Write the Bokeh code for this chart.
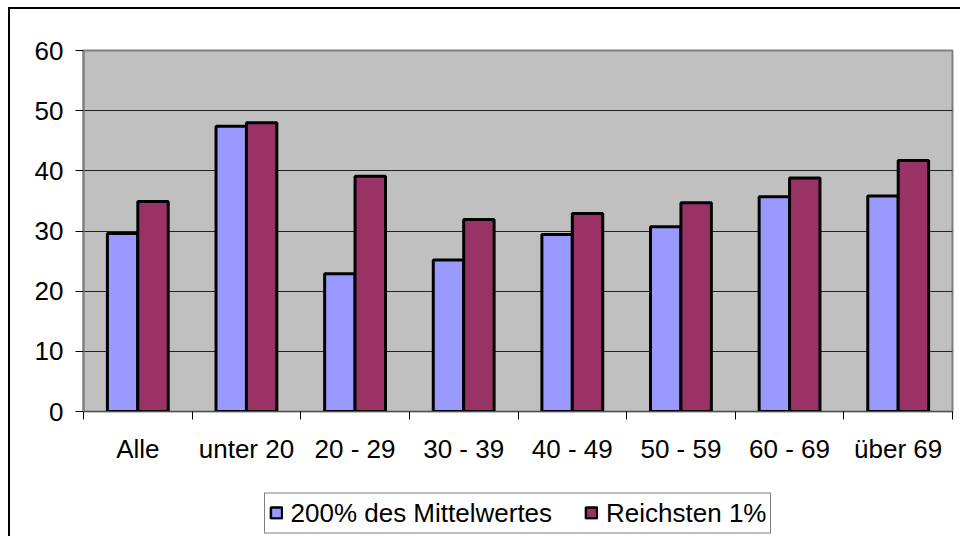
from bokeh.plotting import figure
from bokeh.layouts import column
from bokeh.models import (FactorRange, LinearAxis, FixedTicker, ColumnDataSource,
                          Legend, LegendItem, Range1d)
from bokeh.transform import dodge
from bokeh.embed import file_html
from bokeh.resources import INLINE

categories = ["Alle", "unter 20", "20 - 29", "30 - 39", "40 - 49", "50 - 59", "60 - 69", "über 69"]
series_names = ["200% des Mittelwertes", "Reichsten 1%"]
mittelwert_200 = [29.6, 47.4, 22.9, 25.2, 29.4, 30.7, 35.7, 35.8]
reichsten_1 = [34.9, 48.0, 39.1, 31.9, 32.9, 34.7, 38.8, 41.7]
y_ticks = [0, 10, 20, 30, 40, 50, 60]

FONT = "Liberation Sans"
FS = "26px"
BLUE = "#9999FF"
RED = "#993366"
W = 0.28

source = ColumnDataSource(data=dict(cat=categories, a=mittelwert_200, b=reichsten_1))

# ---------------- main chart ----------------
p = figure(width=950, height=480, output_backend="svg", toolbar_location=None,
           x_range=FactorRange(factors=categories, range_padding=0, factor_padding=0),
           y_range=Range1d(0, 60), x_axis_location=None, y_axis_location=None)
p.min_border = 0
p.min_border_left = 73
p.min_border_top = 41
p.min_border_right = 8
p.min_border_bottom = 78
p.background_fill_color = "#C0C0C0"
p.border_fill_color = "white"
p.outline_line_color = "#808080"
p.outline_line_width = 2

yax = LinearAxis(ticker=FixedTicker(ticks=y_ticks, minor_ticks=[]))
yax.axis_line_color = "#808080"
yax.axis_line_width = 2
yax.major_tick_out = 8
yax.major_tick_in = 0
yax.major_tick_line_color = "black"
yax.major_label_standoff = 12
yax.major_label_text_font = FONT
yax.major_label_text_font_size = FS
yax.major_label_text_color = "black"
p.add_layout(yax, "left")

n = len(categories)
centres = [i + 0.5 for i in range(n)]
bounds = [float(i) for i in range(n + 1)]
xax = LinearAxis(ticker=FixedTicker(ticks=centres, minor_ticks=bounds),
                 major_label_overrides={c: lab for c, lab in zip(centres, categories)})
xax.axis_line_color = "#505050"
xax.axis_line_width = 1
xax.major_tick_out = 0
xax.major_tick_in = 0
xax.minor_tick_out = 8
xax.minor_tick_in = 0
xax.minor_tick_line_color = "black"
xax.major_label_standoff = 14
xax.major_label_text_font = FONT
xax.major_label_text_font_size = FS
xax.major_label_text_color = "black"
p.add_layout(xax, "below")

p.ygrid.ticker = FixedTicker(ticks=y_ticks)
p.ygrid.grid_line_color = "#222222"
p.ygrid.grid_line_width = 1
p.xgrid.visible = False

p.vbar(x=dodge("cat", -W / 2, range=p.x_range), top="a", width=W, source=source,
       fill_color=BLUE, line_color="black", line_width=3)
p.vbar(x=dodge("cat", W / 2, range=p.x_range), top="b", width=W, source=source,
       fill_color=RED, line_color="black", line_width=3)

# ---------------- legend strip (hidden series only feed the legend swatches) ----------------
q = figure(width=950, height=47, output_backend="svg", toolbar_location=None,
           x_range=FactorRange(factors=categories, range_padding=0, factor_padding=0),
           y_range=Range1d(0, 60), x_axis_location=None, y_axis_location=None)
q.min_border = 0
q.outline_line_color = None
q.background_fill_color = "white"
q.border_fill_color = "white"
q.xgrid.visible = False
q.ygrid.visible = False
la = q.vbar(x=dodge("cat", -W / 2, range=q.x_range), top="a", width=W, source=source,
            fill_color=BLUE, line_color="black", line_width=2.5, visible=False)
lb = q.vbar(x=dodge("cat", W / 2, range=q.x_range), top="b", width=W, source=source,
            fill_color=RED, line_color="black", line_width=2.5, visible=False)

legend = Legend(items=[LegendItem(label=series_names[0], renderers=[la]),
                       LegendItem(label=series_names[1], renderers=[lb])],
                orientation="horizontal", location="center", click_policy="none")
legend.label_text_font = FONT
legend.label_text_font_size = FS
legend.label_text_color = "black"
legend.glyph_width = 14
legend.glyph_height = 14
legend.label_standoff = 8
legend.spacing = 32
legend.padding = 4
legend.margin = 0
legend.border_line_color = "black"
legend.border_line_width = 1.5
legend.background_fill_color = "white"
legend.background_fill_alpha = 1
legend.inactive_fill_alpha = 0
q.add_layout(legend, "center")

layout = column(p, q, spacing=0,
                styles={"margin-left": "8px", "margin-top": "7px",
                        "border-left": "2px solid black", "border-top": "2px solid black"})

open("out.html", "w").write(file_html(layout, INLINE))
